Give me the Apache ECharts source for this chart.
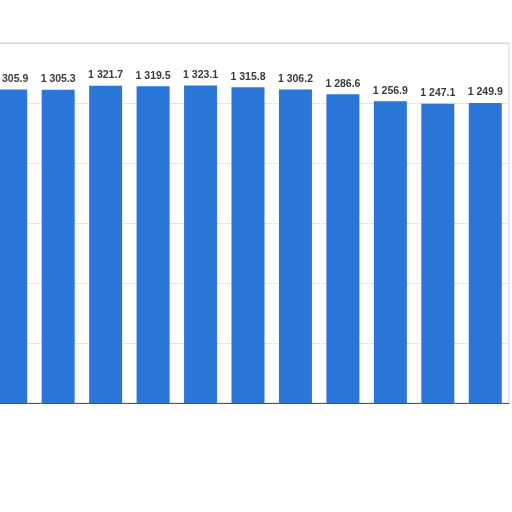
<!DOCTYPE html>
<html>
<head>
<meta charset="utf-8">
<script src="https://cdn.jsdelivr.net/npm/echarts@6/dist/echarts.min.js"></script>
<style>
    html, body { margin: 0; padding: 0; background: #fff; overflow: hidden; }
    /* the first bar is cut off on the left, so the chart starts a little outside the window */
    #chart { width: 525px; height: 512px; margin-left: -13px; }
</style>
</head>
<body>
<div id="chart"></div>
<script>
// bar values, left to right (the first one is partly cut off in the picture)
var categories = ['1', '2', '3', '4', '5', '6', '7', '8', '9', '10', '11'];
var values = [1305.9, 1305.3, 1321.7, 1319.5, 1323.1, 1315.8, 1306.2, 1286.6, 1256.9, 1247.1, 1249.9];

function fmt(v) {
    // thousands separated by a space, one decimal
    var s = v.toFixed(1);
    var parts = s.split('.');
    return parts[0].replace(/\B(?=(\d{3})+(?!\d))/g, ' ') + '.' + parts[1];
}

var chart = echarts.init(document.getElementById('chart'));
var option = {
    backgroundColor: '#fff',
    animation: false,
    grid: {
        left: 0,
        right: 3,
        top: 43,
        bottom: 109,
        show: true,
        borderColor: '#d0d0d0',
        borderWidth: 1
    },
    xAxis: {
        type: 'category',
        data: categories,
        axisLine: { lineStyle: { color: '#555', width: 1 } },
        axisTick: { show: false },
        axisLabel: { show: false }
    },
    yAxis: {
        type: 'value',
        min: 0,
        max: 1500,
        interval: 250,
        axisLabel: { show: false },
        axisLine: { show: false },
        axisTick: { show: false },
        splitLine: { lineStyle: { color: '#cfcfcf', type: 'dotted' } }
    },
    series: [{
        type: 'bar',
        data: values,
        barWidth: 33,
        itemStyle: { color: '#2a76d8' },
        label: {
            show: true,
            position: 'top',
            distance: 5,
            color: '#3a3a3a',
            fontSize: 10.5,
            fontWeight: 'bold',
            fontFamily: 'Liberation Sans',
            formatter: function (p) { return fmt(p.value); }
        }
    }]
};
chart.setOption(option);
</script>
</body>
</html>
